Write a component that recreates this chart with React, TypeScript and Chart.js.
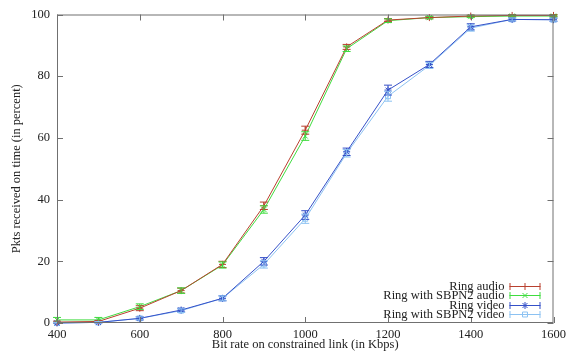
import React, { useEffect, useRef } from "react";
import { Chart, registerables } from "chart.js";
import { drawPoint } from "chart.js/helpers";

Chart.register(...registerables);

// Link bit rates (Kbps)
const bitRates = [400, 500, 600, 700, 800, 900, 1000, 1100, 1200, 1300, 1400, 1500, 1600];

// Percentage of packets received on time
const ringAudio = [0.3, 0.5, 4.8, 10.5, 19.0, 38.0, 62.5, 89.5, 98.2, 99.0, 99.5, 99.7, 99.7];
const sbpnAudio = [1.0, 1.0, 5.3, 10.5, 18.8, 36.8, 60.6, 88.9, 98.0, 99.0, 99.3, 99.5, 99.5];
const ringVideo = [0.0, 0.2, 1.5, 4.2, 8.0, 20.0, 35.0, 55.5, 75.5, 83.8, 96.0, 98.4, 98.3];
const sbpnVideo = [0.0, 0.2, 1.5, 4.0, 8.0, 19.0, 33.8, 55.0, 73.5, 83.5, 95.6, 98.4, 98.3];

// Half-width of the error bars (percent)
const ringAudioErr = [0.3, 0.3, 0.8, 0.8, 1.0, 1.2, 1.3, 0.8, 0.5, 0.4, 0.3, 0.3, 0.3];
const sbpnAudioErr = [0.8, 0.8, 0.9, 0.9, 1.0, 1.2, 1.4, 0.9, 0.6, 0.4, 0.3, 0.3, 0.3];
const ringVideoErr = [0.2, 0.3, 0.5, 0.6, 0.8, 1.2, 1.4, 1.2, 1.6, 1.0, 1.0, 0.5, 0.5];
const sbpnVideoErr = [0.2, 0.3, 0.5, 0.6, 0.8, 1.2, 1.5, 1.2, 1.6, 1.0, 1.0, 0.5, 0.5];

const seriesNames = ["Ring audio", "Ring with SBPN2 audio", "Ring video", "Ring with SBPN2 video"];
const seriesColors = ["#b9402f", "#3fdc3f", "#3550c8", "#8cc2f2"];
const seriesMarkers = ["cross", "crossRot", "star", "rect"];

const xTicks = [400, 600, 800, 1000, 1200, 1400, 1600];
const yTicks = [0, 20, 40, 60, 80, 100];

const FONT = "'Liberation Serif', 'DejaVu Serif', serif";
const FONT_SIZE = 12.5;
const FRAME = "#707070";

const toPoints = (vals: number[]) => vals.map((y, i) => ({ x: bitRates[i], y }));

// Vertical error bars with caps, drawn through the chart's scales
const errorBarPlugin = {
  id: "errorBars",
  afterDatasetsDraw(chart: any) {
    const ctx = chart.ctx;
    const xs = chart.scales.x;
    const ys = chart.scales.y;
    chart.data.datasets.forEach((ds: any) => {
      const errs: number[] = ds.errors;
      ctx.save();
      ctx.strokeStyle = ds.borderColor;
      ctx.lineWidth = 1;
      ds.data.forEach((p: any, i: number) => {
        const px = xs.getPixelForValue(p.x);
        const top = ys.getPixelForValue(Math.min(100, p.y + errs[i]));
        const bot = ys.getPixelForValue(Math.max(0, p.y - errs[i]));
        ctx.beginPath();
        ctx.moveTo(px, top);
        ctx.lineTo(px, bot);
        ctx.moveTo(px - 4, top);
        ctx.lineTo(px + 4, top);
        ctx.moveTo(px - 4, bot);
        ctx.lineTo(px + 4, bot);
        ctx.stroke();
      });
      ctx.restore();
    });
  },
};

// Inward tick marks on all four sides of the frame
const frameTicksPlugin = {
  id: "frameTicks",
  afterDraw(chart: any) {
    const ctx = chart.ctx;
    const { left, right, top, bottom } = chart.chartArea;
    const xs = chart.scales.x;
    const ys = chart.scales.y;
    const len = 6;
    ctx.save();
    ctx.strokeStyle = FRAME;
    ctx.lineWidth = 1;
    ctx.strokeRect(left + 0.5, top + 0.5, right - left - 1, bottom - top - 1);
    ctx.beginPath();
    xTicks.forEach((v) => {
      const px = Math.round(xs.getPixelForValue(v)) + 0.5;
      ctx.moveTo(px, bottom);
      ctx.lineTo(px, bottom - len);
      ctx.moveTo(px, top);
      ctx.lineTo(px, top + len);
    });
    yTicks.forEach((v) => {
      const py = Math.round(ys.getPixelForValue(v)) + 0.5;
      ctx.moveTo(left, py);
      ctx.lineTo(left + len, py);
      ctx.moveTo(right, py);
      ctx.lineTo(right - len, py);
    });
    ctx.stroke();
    ctx.restore();
  },
};

// Key in the lower-right corner of the plot
const keyPlugin = {
  id: "cornerKey",
  afterDraw(chart: any) {
    const ctx = chart.ctx;
    const { right, bottom } = chart.chartArea;
    const rowH = 9.5;
    const n = chart.data.datasets.length;
    const textRight = right - 49;
    const lineL = right - 44;
    const lineR = right - 13;
    ctx.save();
    ctx.font = `${FONT_SIZE}px ${FONT}`;
    ctx.textAlign = "right";
    ctx.textBaseline = "middle";
    chart.data.datasets.forEach((ds: any, i: number) => {
      const y = Math.round(bottom - 9 - (n - 1 - i) * rowH) + 0.5;
      ctx.fillStyle = "#222";
      ctx.fillText(ds.label, textRight, y);
      ctx.strokeStyle = ds.borderColor;
      ctx.lineWidth = 1;
      ctx.beginPath();
      ctx.moveTo(lineL, y);
      ctx.lineTo(lineR, y);
      ctx.moveTo(lineL + 0.5, y - 3.5);
      ctx.lineTo(lineL + 0.5, y + 3.5);
      ctx.moveTo(lineR - 0.5, y - 3.5);
      ctx.lineTo(lineR - 0.5, y + 3.5);
      ctx.stroke();
      ctx.fillStyle = "rgba(0,0,0,0)";
      drawPoint(
        ctx,
        {
          pointStyle: ds.pointStyle,
          radius: ds.pointRadius,
          rotation: 0,
          borderWidth: 1,
        } as any,
        (lineL + lineR) / 2,
        y
      );
    });
    ctx.restore();
  },
};

export default function App() {
  const canvasRef = useRef<HTMLCanvasElement | null>(null);

  useEffect(() => {
    if (!canvasRef.current) return;
    const series = [ringAudio, sbpnAudio, ringVideo, sbpnVideo];
    const errs = [ringAudioErr, sbpnAudioErr, ringVideoErr, sbpnVideoErr];
    const chart = new Chart(canvasRef.current, {
      type: "line",
      data: {
        datasets: series.map((vals, i) => ({
          label: seriesNames[i],
          data: toPoints(vals),
          errors: errs[i],
          borderColor: seriesColors[i],
          backgroundColor: "rgba(0,0,0,0)",
          borderWidth: 1,
          pointStyle: seriesMarkers[i],
          pointRadius: 3.5,
          pointBorderWidth: 1,
          pointBorderColor: seriesColors[i],
          pointBackgroundColor: "rgba(0,0,0,0)",
          tension: 0,
          clip: false,
        })) as any,
      },
      options: {
        animation: false,
        responsive: false,
        layout: { padding: { left: 9, right: 14, top: 12, bottom: 4 } },
        plugins: {
          legend: { display: false },
          tooltip: { enabled: false },
        },
        scales: {
          x: {
            type: "linear",
            min: 400,
            max: 1600,
            afterFit: (s: any) => {
              s.height = 29;
            },
            afterBuildTicks: (s: any) => {
              s.ticks = xTicks.map((v) => ({ value: v }));
            },
            grid: { display: false, drawTicks: false },
            border: { display: false },
            ticks: {
              color: "#222",
              font: { family: FONT, size: FONT_SIZE },
              padding: 4,
              maxRotation: 0,
              callback: (v: any) => String(v),
            },
            title: {
              display: true,
              text: "Bit rate on constrained link (in Kbps)",
              color: "#222",
              font: { family: FONT, size: FONT_SIZE },
              padding: { top: 0, bottom: 0 },
            },
          },
          y: {
            type: "linear",
            min: 0,
            max: 100,
            afterFit: (s: any) => {
              s.width = 48;
            },
            afterBuildTicks: (s: any) => {
              s.ticks = yTicks.map((v) => ({ value: v }));
            },
            grid: { display: false, drawTicks: false },
            border: { display: false },
            ticks: {
              color: "#222",
              font: { family: FONT, size: FONT_SIZE },
              padding: 7,
              callback: (v: any) => String(v),
            },
            title: {
              display: true,
              text: "Pkts received on time (in percent)",
              color: "#222",
              font: { family: FONT, size: FONT_SIZE },
              padding: { top: 0, bottom: 0 },
            },
          },
        },
      },
      plugins: [errorBarPlugin, frameTicksPlugin, keyPlugin],
    });
    return () => chart.destroy();
  }, []);

  return (
    <div style={{ position: "absolute", left: 0, top: 0, width: 570, height: 356, background: "#fff" }}>
      <canvas ref={canvasRef} width={570} height={356} />
    </div>
  );
}
